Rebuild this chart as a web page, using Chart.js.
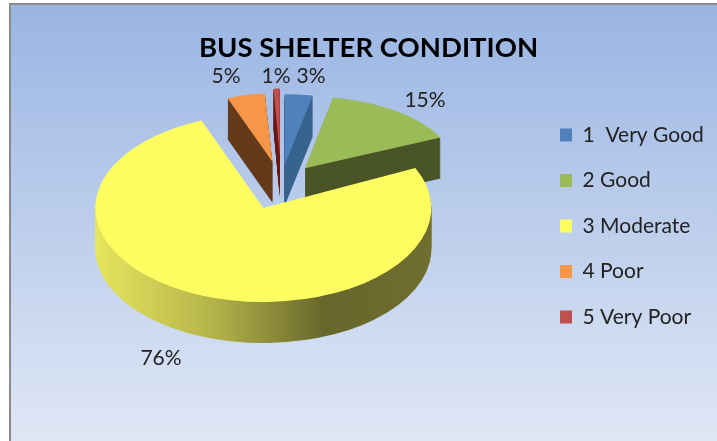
<!DOCTYPE html>
<html>
<head>
<meta charset="utf-8">
<title>Bus Shelter Condition</title>
<script src="https://cdn.jsdelivr.net/npm/chart.js@4/dist/chart.umd.min.js"></script>
<style>
  html, body { margin: 0; padding: 0; background: #fff; overflow: hidden; }
  #frame {
    position: absolute; left: 9px; top: 3px; width: 708px; height: 438px;
    border-left: 2px solid #8a8a8a; border-top: 2px solid #8a8a8a;
    box-sizing: border-box;
    background: linear-gradient(to bottom, #9ab5e3, #dfe7f5);
  }
  canvas { position: absolute; left: 0; top: 0; }
</style>
</head>
<body>
<div id="frame"></div>
<canvas id="busChart" width="717" height="441"></canvas>
<script>
const categories = ['1  Very Good', '2 Good', '3 Moderate', '4 Poor', '5 Very Poor'];
const shares = [3, 15, 76, 5, 1];

const topColors = ['#4f81bd', '#9bbb59', '#fdfd62', '#f79646', '#c0504d'];
const sideColors = ['#38648f', '#4a5527', null, '#653a1a', '#6b1a18'];

// fake 3d look, slices are not the same size because of the perspective
const sliceRadius = [150, 150, 168, 122, 100];
const sliceTilt = [0.47, 0.48, 0.56, 0.56, 0.68];
const sliceExplode = [39, 39, 48, 39, 39];
const drawOrder = [3, 4, 0, 1, 2];
const pieDepth = 41;
const pieX = 281;
const pieY = 183;

// label centres
const labelSpots = [[311, 76], [276, 76], [226, 76], [425, 100], [161, 358]];
const labelSlices = [0, 4, 3, 1, 2];

function yellowSide(ctx, arc, i) {
  const mid = (arc.startAngle + arc.endAngle) / 2;
  const shift = pieX - arc.x + Math.cos(mid) * sliceExplode[i];
  const g = ctx.createLinearGradient(96 - shift, 0, 433 - shift, 0);
  g.addColorStop(0, '#e6e55e');
  g.addColorStop(0.35, '#b4b34a');
  g.addColorStop(0.68, '#67662b');
  g.addColorStop(1, '#706f2f');
  return g;
}

const pie3d = {
  id: 'pie3d',
  afterLayout(chart) {
    const legend = chart.legend;
    const w = legend.width;
    legend.left = 560 - legend.options.labels.padding;
    legend.right = legend.left + w;
    legend.top = 100;
    legend.bottom = 400;
  },
  beforeDatasetDraw(chart, args) {
    const ctx = chart.ctx;
    const arcs = args.meta.data;
    drawOrder.forEach(i => {
      const arc = arcs[i];
      arc.outerRadius = sliceRadius[i];
      const mid = (arc.startAngle + arc.endAngle) / 2;
      const place = d => {
        ctx.translate(pieX, pieY + d);
        ctx.scale(1, sliceTilt[i]);
        // the built in offset option trims thin slices away, so move them here
        ctx.translate(Math.cos(mid) * sliceExplode[i] - arc.x, Math.sin(mid) * sliceExplode[i] - arc.y);
      };
      const opts = arc.options;
      const fill = sideColors[i] || yellowSide(ctx, arc, i);
      arc.options = Object.create(opts, { backgroundColor: { value: fill } });
      for (let d = pieDepth; d > 0; d--) {
        ctx.save();
        place(d);
        arc.draw(ctx);
        ctx.restore();
      }
      arc.options = opts;
      ctx.save();
      place(0);
      arc.draw(ctx);
      ctx.restore();
    });
    return false;
  },
  afterDraw(chart) {
    const ctx = chart.ctx;
    ctx.save();
    ctx.font = '21px Lato';
    ctx.fillStyle = '#222';
    ctx.textAlign = 'center';
    ctx.textBaseline = 'middle';
    labelSlices.forEach((s, k) => {
      ctx.fillText(shares[s] + '%', labelSpots[k][0], labelSpots[k][1]);
    });
    ctx.restore();
  }
};

new Chart(document.getElementById('busChart'), {
  type: 'pie',
  data: {
    labels: categories,
    datasets: [{
      data: shares,
      backgroundColor: topColors,
      borderWidth: 0,
      radius: 168
    }]
  },
  options: {
    responsive: false,
    animation: false,
    layout: { padding: { left: 20 } },
    plugins: {
      tooltip: { enabled: false },
      title: {
        display: true,
        text: 'BUS SHELTER CONDITION',
        color: '#000',
        font: { family: 'Lato', size: 27.5, weight: 'bold' },
        padding: { top: 32, bottom: 10 }
      },
      legend: {
        position: 'right',
        align: 'start',
        labels: {
          color: '#222',
          font: { family: 'Lato', size: 21 },
          boxWidth: 12,
          boxHeight: 13,
          padding: 24.5
        }
      }
    }
  },
  plugins: [pie3d]
});
</script>
</body>
</html>
